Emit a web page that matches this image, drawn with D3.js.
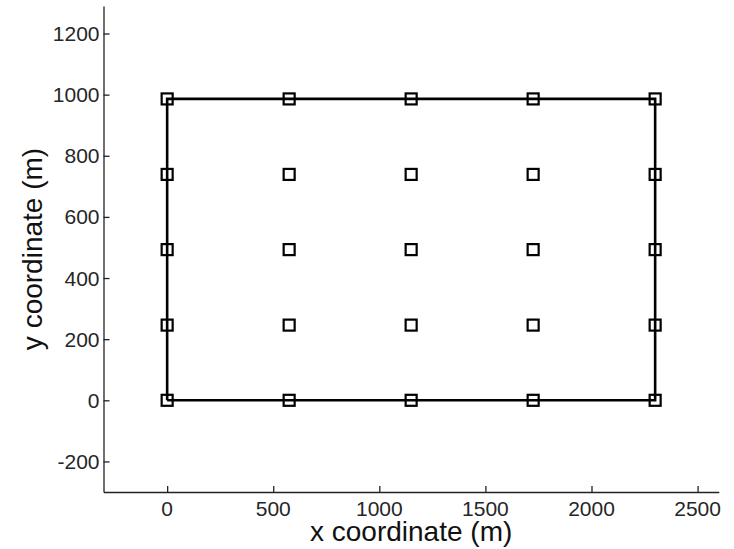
<!DOCTYPE html>
<html>
<head>
  <script src="https://d3js.org/d3.v7.min.js"></script>
  <style>
    body { margin: 0; background: #fff; }
    text { font-family: "Liberation Sans", Arial, sans-serif; }
    .tick-label { font-size: 21px; fill: #262626; }
    .axis-title { font-size: 28px; fill: #111; }
  </style>
</head>
<body>
  <svg id="chart" width="734" height="549"></svg>
  <script>
    // node positions (m)
    const xPositions = [0, 575, 1150, 1725, 2300];
    const yPositions = [0, 246, 493, 739, 986];
    // boundary of the region
    const boundaryX = [0, 2300, 2300, 0, 0];
    const boundaryY = [0, 0, 986, 986, 0];
    const xTicks = [0, 500, 1000, 1500, 2000, 2500];
    const yTicks = [-200, 0, 200, 400, 600, 800, 1000, 1200];

    const svg = d3.select('#chart');

    const x = d3.scaleLinear().domain([-300, 2600]).range([103.5, 718.8]);
    const y = d3.scaleLinear().domain([-300, 1290]).range([492, 6]);

    // axes (ticks pointing inward)
    const xAxis = svg.append('g')
      .attr('transform', `translate(0, ${y(-300)})`)
      .call(d3.axisTop(x).tickValues(xTicks).tickSize(6).tickSizeOuter(0).tickFormat(''));
    const yAxis = svg.append('g')
      .attr('transform', `translate(${x(-300)}, 0)`)
      .call(d3.axisRight(y).tickValues(yTicks).tickSize(6).tickSizeOuter(0).tickFormat(''));

    [xAxis, yAxis].forEach(a => {
      a.select('.domain').attr('stroke', '#222').attr('stroke-width', 1.3);
      a.selectAll('.tick line').attr('stroke', '#222').attr('stroke-width', 1.3);
    });

    // tick labels
    svg.selectAll('.xlab')
      .data(xTicks)
      .enter()
      .append('text')
      .attr('class', 'tick-label')
      .attr('x', d => x(d))
      .attr('y', 516)
      .attr('text-anchor', 'middle')
      .text(d => d);

    svg.selectAll('.ylab')
      .data(yTicks)
      .enter()
      .append('text')
      .attr('class', 'tick-label')
      .attr('x', x(-300) - 4)
      .attr('y', d => y(d))
      .attr('dy', '0.36em')
      .attr('text-anchor', 'end')
      .text(d => d);

    // axis titles
    svg.append('text')
      .attr('class', 'axis-title')
      .attr('x', (x(-300) + x(2600)) / 2)
      .attr('y', 541)
      .attr('text-anchor', 'middle')
      .text('x coordinate (m)');

    svg.append('text')
      .attr('class', 'axis-title')
      .attr('transform', `translate(42, ${(y(-300) + y(1290)) / 2}) rotate(-90)`)
      .attr('text-anchor', 'middle')
      .text('y coordinate (m)');

    // boundary line
    const boundary = boundaryX.map((d, i) => [d, boundaryY[i]]);
    svg.append('path')
      .datum(boundary)
      .attr('d', d3.line().x(d => x(d[0])).y(d => y(d[1])))
      .attr('fill', 'none')
      .attr('stroke', '#000')
      .attr('stroke-width', 2.6);

    // node markers
    const nodes = [];
    yPositions.forEach(py => xPositions.forEach(px => nodes.push([px, py])));
    const s = 11;
    svg.selectAll('.node')
      .data(nodes)
      .enter()
      .append('rect')
      .attr('class', 'node')
      .attr('x', d => x(d[0]) - s / 2)
      .attr('y', d => y(d[1]) - s / 2)
      .attr('width', s)
      .attr('height', s)
      .attr('fill', 'none')
      .attr('stroke', '#000')
      .attr('stroke-width', 2.2);
  </script>
</body>
</html>
